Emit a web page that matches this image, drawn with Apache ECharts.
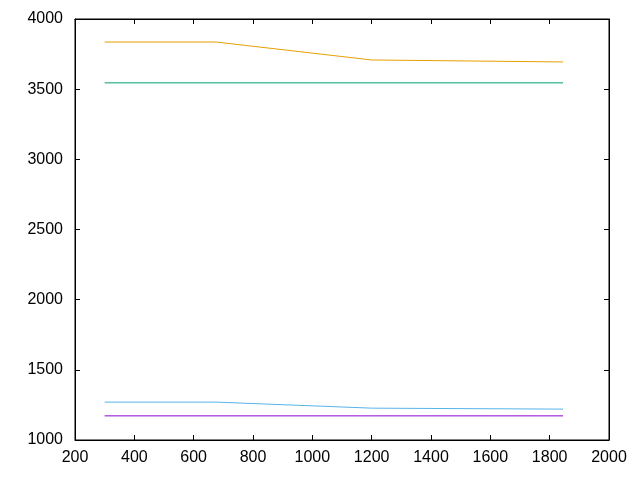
<!DOCTYPE html>
<html>
<head>
<meta charset="utf-8">
<script src="https://cdn.jsdelivr.net/npm/echarts@6/dist/echarts.min.js"></script>
<style>html,body{margin:0;padding:0;background:#fff}#c{width:640px;height:480px}</style>
</head>
<body>
<div id="c"></div>
<script>
const xTicks = [200, 400, 600, 800, 1000, 1200, 1400, 1600, 1800, 2000];
const yTicks = [1000, 1500, 2000, 2500, 3000, 3500, 4000];
const purpleX = [300, 1845];
const purpleY = [1172, 1172];
const cyanX = [300, 675, 1200, 1845];
const cyanY = [1270, 1270, 1227, 1220];
const greenX = [300, 1845];
const greenY = [3545, 3545];
const orangeX = [300, 675, 1200, 1845];
const orangeY = [3836, 3836, 3708, 3694];

function pairs(xs, ys) { return xs.map((x, i) => [x, ys[i]]); }

const font = { fontFamily: 'Liberation Sans, Arial, sans-serif', fontSize: 16, color: '#000', formatter: v => String(v) };

const chart = echarts.init(document.getElementById('c'), null, { renderer: 'canvas' });
function mkSeries(xs, ys, color) {
  return {
    type: 'line', data: pairs(xs, ys), showSymbol: false, symbol: 'none',
    lineStyle: { color: color, width: 1 }, animation: false, silent: true
  };
}
chart.setOption({
  animation: false,
  grid: { left: 75, right: 31, top: 19, bottom: 40, show: true, borderColor: '#000', borderWidth: 1, backgroundColor: 'transparent' },
  xAxis: [
    { type: 'value', min: xTicks[0], max: xTicks[xTicks.length - 1], interval: 200, position: 'bottom',
      axisLine: { show: true, onZero: false, lineStyle: { color: '#000' } },
      axisTick: { show: true, inside: true, length: 5, lineStyle: { color: '#000' } },
      axisLabel: Object.assign({ margin: 10 }, font), splitLine: { show: false } },
    { type: 'value', min: xTicks[0], max: xTicks[xTicks.length - 1], interval: 200, position: 'top',
      axisLine: { show: true, onZero: false, lineStyle: { color: '#000' } },
      axisTick: { show: true, inside: true, length: 5, lineStyle: { color: '#000' } },
      axisLabel: { show: false }, splitLine: { show: false } }
  ],
  yAxis: [
    { type: 'value', min: yTicks[0], max: yTicks[yTicks.length - 1], interval: 500, position: 'left',
      axisLine: { show: true, onZero: false, lineStyle: { color: '#000' } },
      axisTick: { show: true, inside: true, length: 5, lineStyle: { color: '#000' } },
      axisLabel: Object.assign({ margin: 12 }, font), splitLine: { show: false } },
    { type: 'value', min: yTicks[0], max: yTicks[yTicks.length - 1], interval: 500, position: 'right',
      axisLine: { show: true, onZero: false, lineStyle: { color: '#000' } },
      axisTick: { show: true, inside: true, length: 5, lineStyle: { color: '#000' } },
      axisLabel: { show: false }, splitLine: { show: false } }
  ],
  series: [
    mkSeries(purpleX, purpleY, '#9400d3'),
    mkSeries(greenX, greenY, '#009e73'),
    mkSeries(cyanX, cyanY, '#56b4e9'),
    mkSeries(orangeX, orangeY, '#e69f00')
  ]
});
</script>
</body>
</html>
